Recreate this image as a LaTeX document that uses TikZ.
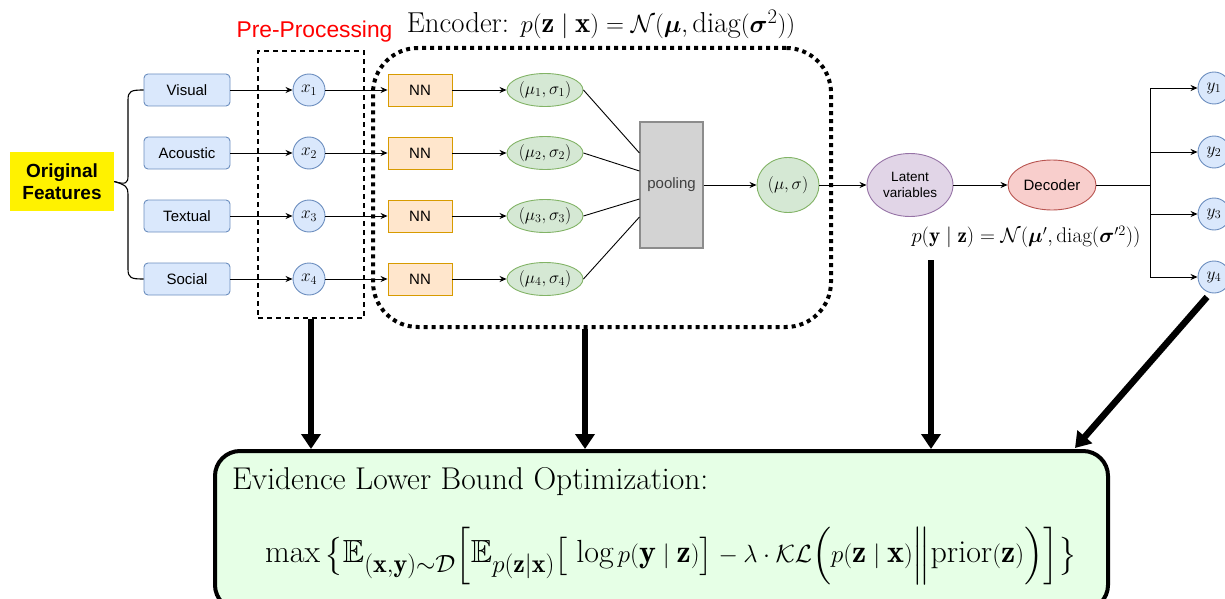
\documentclass[tikz,border=0pt]{standalone}
\usepackage{fontspec}
\setsansfont{Liberation Sans}
\usepackage{amsmath,amssymb,bm}
\DeclareMathSizes{32}{32}{26}{20}
\usetikzlibrary{arrows.meta,calc,shapes.geometric}
\definecolor{bluefill}{HTML}{DAE8FC}
\definecolor{bluestroke}{HTML}{6C8EBF}
\definecolor{orfill}{HTML}{FFE6CC}
\definecolor{orstroke}{HTML}{D79B00}
\definecolor{grfill}{HTML}{D5E8D4}
\definecolor{grstroke}{HTML}{82B366}
\definecolor{poolfill}{HTML}{D3D3D3}
\definecolor{poolstroke}{HTML}{8C8C8C}
\definecolor{pufill}{HTML}{E1D5E7}
\definecolor{pustroke}{HTML}{9673A6}
\definecolor{rdfill}{HTML}{F8CECC}
\definecolor{rdstroke}{HTML}{B85450}
\definecolor{elbofill}{HTML}{E6FFE6}
\definecolor{pretext}{HTML}{FF0000}
\begin{document}
\begin{tikzpicture}[x=1pt,y=-1pt,
  feat/.style={draw=bluestroke, fill=bluefill, rounded corners=4pt, minimum width=86pt, minimum height=32pt, inner sep=0pt, line width=0.9pt, font=\sffamily\fontsize{15}{17}\selectfont},
  xc/.style={circle, draw=bluestroke, fill=bluefill, minimum size=32pt, inner sep=0pt, line width=0.9pt, font=\fontsize{18}{20}\selectfont},
  nnbox/.style={draw=orstroke, fill=orfill, minimum width=64pt, minimum height=32pt, inner sep=0pt, line width=0.9pt, font=\sffamily\fontsize{15}{17}\selectfont},
  musig/.style={ellipse, draw=grstroke, fill=grfill, minimum width=76pt, minimum height=33pt, inner sep=0pt, line width=0.9pt, font=\fontsize{18.5}{20}\selectfont},
  arr/.style={-{Stealth[length=7pt,width=6pt]}, line width=0.9pt},
  link/.style={line width=0.9pt},
  bigarr/.style={line width=6.5pt, -{Triangle[length=15pt,width=19pt]}}
]
\useasboundingbox (0,0) rectangle (1225,599);

% original features
\node[fill=yellow, minimum width=104pt, minimum height=59pt, inner sep=0pt, align=center, font=\sffamily\bfseries\fontsize{19}{22}\selectfont] (of) at (62,181.5) {Original\\Features};

% feature boxes
\node[feat] (vis) at (187,90) {Visual};
\node[feat] (aco) at (187,153) {Acoustic};
\node[feat] (tex) at (187,216) {Textual};
\node[feat] (soc) at (187,279) {Social};

% brace
\draw[line width=1.1pt] (vis.west) .. controls (131,90) and (128,91) .. (128,100) -- (128,176) .. controls (128,183) and (126,185) .. (of.east);
\draw[line width=1.1pt] (soc.west) .. controls (131,279) and (128,278) .. (128,269) -- (128,194) .. controls (128,187) and (126,185) .. (of.east);

% pre-processing
\node[draw, dashed, dash pattern=on 5pt off 4pt, line width=1.1pt, minimum width=106pt, minimum height=267pt, inner sep=0pt] (pre) at (311,184.5) {};
\node[text=pretext, font=\sffamily\fontsize{22.8}{26}\selectfont] (prelabel) at (314.5,32) {Pre-Processing};

\node[xc] (x1) at (309,90) {$x_1$};
\node[xc] (x2) at (309,153) {$x_2$};
\node[xc] (x3) at (309,216) {$x_3$};
\node[xc] (x4) at (309,279) {$x_4$};

% encoder
\node[draw, line width=4pt, dash pattern=on 4pt off 4pt, rounded corners=45pt, minimum width=458pt, minimum height=279pt, inner sep=0pt] (enc) at (602,187.5) {};
\node[font=\fontsize{28.8}{31}\selectfont] (enclabel) at (601,24) {Encoder: $p(\mathbf{z}\mid\mathbf{x})=\mathcal{N}(\boldsymbol{\mu},\mathrm{diag}(\boldsymbol{\sigma}^2))$};

\node[nnbox] (nn1) at (420,90) {NN};
\node[nnbox] (nn2) at (420,153) {NN};
\node[nnbox] (nn3) at (420,216) {NN};
\node[nnbox] (nn4) at (420,279) {NN};

\node[musig] (m1) at (545,90) {$(\mu_1,\sigma_1)$};
\node[musig] (m2) at (545,153) {$(\mu_2,\sigma_2)$};
\node[musig] (m3) at (545,216) {$(\mu_3,\sigma_3)$};
\node[musig] (m4) at (545,279) {$(\mu_4,\sigma_4)$};

\node[draw=poolstroke, fill=poolfill, line width=1.1pt, minimum width=63pt, minimum height=126pt, inner sep=0pt, text=black!75, font=\sffamily\fontsize{15}{17}\selectfont] (pool) at (671.5,185) {pooling};

\node[ellipse, draw=grstroke, fill=grfill, minimum width=62pt, minimum height=55pt, inner sep=0pt, line width=0.9pt, font=\fontsize{18}{20}\selectfont] (ms) at (788,185) {$(\mu,\sigma)$};

% latent / decoder
\node[ellipse, draw=pustroke, fill=pufill, minimum width=86pt, minimum height=63pt, inner sep=0pt, line width=0.9pt, align=center, font=\sffamily\fontsize{13.5}{16}\selectfont] (lat) at (910,185) {Latent\\variables};
\node[ellipse, draw=rdstroke, fill=rdfill, minimum width=88pt, minimum height=50pt, inner sep=0pt, line width=0.9pt, font=\sffamily\fontsize{15}{17}\selectfont] (dec) at (1052,185) {Decoder};
\node[font=\fontsize{21.2}{24}\selectfont] (plabel) at (1026,237) {$p(\mathbf{y}\mid\mathbf{z})=\mathcal{N}(\boldsymbol{\mu}',\mathrm{diag}(\boldsymbol{\sigma}'^2))$};

\coordinate (sp) at (1150,185);
\node[xc] (y1) at (1214,88) {$y_1$};
\node[xc] (y2) at (1214,152) {$y_2$};
\node[xc] (y3) at (1214,214) {$y_3$};
\node[xc] (y4) at (1214,277) {$y_4$};

% connectors
\foreach \a/\b in {vis/x1,aco/x2,tex/x3,soc/x4,x1/nn1,x2/nn2,x3/nn3,x4/nn4,nn1/m1,nn2/m2,nn3/m3,nn4/m4,pool/ms,ms/lat,lat/dec}
  \draw[arr] (\a) -- (\b);
\draw[link] (m1.east) -- ([yshift=32pt]pool.west);
\draw[link] (m2.east) -- ([yshift=14pt]pool.west);
\draw[link] (m3.east) -- ([yshift=-14pt]pool.west);
\draw[link] (m4.east) -- ([yshift=-32pt]pool.west);
\draw[link] (dec) -- (sp);
\foreach \t in {y1,y2,y3,y4}
  \draw[arr] (sp) |- (\t);

% ELBO box
\node[draw, line width=4pt, fill=elbofill, rounded corners=25pt, minimum width=893pt, minimum height=159pt, inner sep=0pt] (elbo) at (661.5,530.5) {};
\node[anchor=west, inner sep=0pt, font=\fontsize{31.5}{35}\selectfont] (elbot) at (232,482) {Evidence Lower Bound Optimization:};
\node[anchor=west, inner sep=0pt, font=\fontsize{32}{36}\selectfont] (elbof) at (265,556) {$\max\big\{\mathbb{E}_{(\mathbf{x},\mathbf{y})\sim\mathcal{D}}\Big[\mathbb{E}_{p(\mathbf{z}|\mathbf{x})}\big[\,\log p(\mathbf{y}\mid\mathbf{z})\big]-\lambda\cdot\mathcal{KL}\Big(p(\mathbf{z}\mid\mathbf{x})\Big\|\mathrm{prior}(\mathbf{z})\Big)\Big]\big\}$};

% thick arrows
\coordinate (e2) at ([xshift=-17pt]enc.south);
\coordinate (a3) at (931,260);
\coordinate (a4s) at (1207,297);
\coordinate (a4e) at (1075,448);
\draw[bigarr] (pre.south) -- (pre.south |- elbo.north);
\draw[bigarr] (e2) -- (e2 |- elbo.north);
\draw[bigarr] (a3) -- (a3 |- elbo.north);
\draw[bigarr] (a4s) -- (a4e);
\end{tikzpicture}
\end{document}
